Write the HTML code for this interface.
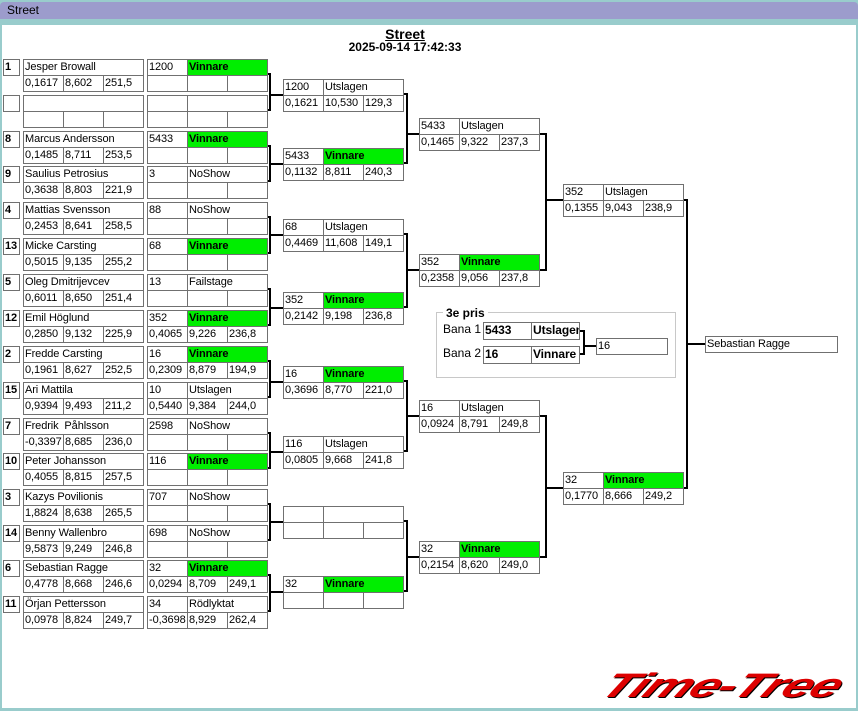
<!DOCTYPE html>
<html><head><meta charset="utf-8"><style>
*{margin:0;padding:0;box-sizing:border-box}
body{width:858px;height:711px;background:#99cccc;position:relative;overflow:hidden;font-family:"Liberation Sans",sans-serif}
#tb{position:absolute;left:0;top:2px;width:858px;height:17px;background:#9c9ccc;font-size:12px;line-height:17px;padding-left:7px;border-radius:4px 4px 0 0}
#cl{position:absolute;left:2px;top:25px;width:854px;height:683px;background:#fff}
.c{position:absolute;height:17px;border:1px solid #707070;font-size:11px;line-height:15px;padding-left:1px;white-space:nowrap;overflow:hidden;background:#fff;color:#000;letter-spacing:-0.1px}
.w{width:41px}.n{width:121px}.s{width:81px}
.g{background:#00ee00;font-weight:bold}
.sd{width:17px;font-weight:bold;padding-left:1px}
.b{font-weight:bold}
</style></head><body>
<div id="tb">Street</div>
<div id="cl"></div>
<div style="position:absolute;left:0;top:27px;width:810px;text-align:center;font-weight:bold;font-size:14px;text-decoration:underline;line-height:15px">Street</div>
<div style="position:absolute;left:0;top:41px;width:810px;text-align:center;font-weight:bold;font-size:12px;line-height:13px">2025-09-14 17:42:33</div>

<svg style="position:absolute;left:0;top:0" width="858" height="711"><g stroke="#000" stroke-width="2" fill="none">
<path d="M267 74H270V110H267M270 95H283"/>
<path d="M267 146H270V181H267M270 164H283"/>
<path d="M267 217H270V253H267M270 235H283"/>
<path d="M267 289H270V325H267M270 308H283"/>
<path d="M267 361H270V397H267M270 382H283"/>
<path d="M267 433H270V468H267M270 452H283"/>
<path d="M267 504H270V540H267M270 522H283"/>
<path d="M267 575H270V611H267M270 592H283"/>
<path d="M403 94H407V163H403M407 134H419"/>
<path d="M403 234H407V307H403M407 270H419"/>
<path d="M403 381H407V451H403M407 416H419"/>
<path d="M403 521H407V591H403M407 557H419"/>
<path d="M539 134H546V270H539M546 200H563"/>
<path d="M539 416H546V557H539M546 488H563"/>
<path d="M683 200H687V488H683M687 344H705"/>
<path d="M579 331H584V354H579M584 346H596"/>
</g>
<rect x="436.5" y="312.5" width="239" height="65" fill="none" stroke="#c8c8c8"/>
</svg>
<div style="position:absolute;left:443px;top:306px;background:#fff;padding:0 3px;font-weight:bold;font-size:12px">3e pris</div>
<div style="position:absolute;left:443px;top:322px;font-size:12px">Bana 1</div>
<div style="position:absolute;left:443px;top:346px;font-size:12px">Bana 2</div>
<div class="c b" style="left:483px;top:322px;width:49px;height:18px;font-size:12px">5433</div><div class="c b" style="left:531px;top:322px;width:49px;height:18px;font-size:12px">Utslagen</div>
<div class="c b" style="left:483px;top:346px;width:49px;height:18px;font-size:12px">16</div><div class="c b" style="left:531px;top:346px;width:49px;height:18px;font-size:12px">Vinnare</div>
<div class="c" style="left:596px;top:338px;width:72px">16</div>
<div class="c" style="left:705px;top:336px;width:133px">Sebastian Ragge</div>

<!-- Round 1 names -->
<div class="c sd" style="left:3px;top:59px">1</div><div class="c n" style="left:23px;top:59px">Jesper Browall</div><div class="c w" style="left:23px;top:75px">0,1617</div><div class="c w" style="left:63px;top:75px">8,602</div><div class="c w" style="left:103px;top:75px">251,5</div>
<div class="c sd" style="left:3px;top:95px"></div><div class="c n" style="left:23px;top:95px"></div><div class="c w" style="left:23px;top:111px"></div><div class="c w" style="left:63px;top:111px"></div><div class="c w" style="left:103px;top:111px"></div>
<div class="c sd" style="left:3px;top:131px">8</div><div class="c n" style="left:23px;top:131px">Marcus Andersson</div><div class="c w" style="left:23px;top:147px">0,1485</div><div class="c w" style="left:63px;top:147px">8,711</div><div class="c w" style="left:103px;top:147px">253,5</div>
<div class="c sd" style="left:3px;top:166px">9</div><div class="c n" style="left:23px;top:166px">Saulius Petrosius</div><div class="c w" style="left:23px;top:182px">0,3638</div><div class="c w" style="left:63px;top:182px">8,803</div><div class="c w" style="left:103px;top:182px">221,9</div>
<div class="c sd" style="left:3px;top:202px">4</div><div class="c n" style="left:23px;top:202px">Mattias Svensson</div><div class="c w" style="left:23px;top:218px">0,2453</div><div class="c w" style="left:63px;top:218px">8,641</div><div class="c w" style="left:103px;top:218px">258,5</div>
<div class="c sd" style="left:3px;top:238px">13</div><div class="c n" style="left:23px;top:238px">Micke Carsting</div><div class="c w" style="left:23px;top:254px">0,5015</div><div class="c w" style="left:63px;top:254px">9,135</div><div class="c w" style="left:103px;top:254px">255,2</div>
<div class="c sd" style="left:3px;top:274px">5</div><div class="c n" style="left:23px;top:274px">Oleg Dmitrijevcev</div><div class="c w" style="left:23px;top:290px">0,6011</div><div class="c w" style="left:63px;top:290px">8,650</div><div class="c w" style="left:103px;top:290px">251,4</div>
<div class="c sd" style="left:3px;top:310px">12</div><div class="c n" style="left:23px;top:310px">Emil Höglund</div><div class="c w" style="left:23px;top:326px">0,2850</div><div class="c w" style="left:63px;top:326px">9,132</div><div class="c w" style="left:103px;top:326px">225,9</div>
<div class="c sd" style="left:3px;top:346px">2</div><div class="c n" style="left:23px;top:346px">Fredde Carsting</div><div class="c w" style="left:23px;top:362px">0,1961</div><div class="c w" style="left:63px;top:362px">8,627</div><div class="c w" style="left:103px;top:362px">252,5</div>
<div class="c sd" style="left:3px;top:382px">15</div><div class="c n" style="left:23px;top:382px">Ari Mattila</div><div class="c w" style="left:23px;top:398px">0,9394</div><div class="c w" style="left:63px;top:398px">9,493</div><div class="c w" style="left:103px;top:398px">211,2</div>
<div class="c sd" style="left:3px;top:418px">7</div><div class="c n" style="left:23px;top:418px">Fredrik&nbsp; Påhlsson</div><div class="c w" style="left:23px;top:434px">-0,3397</div><div class="c w" style="left:63px;top:434px">8,685</div><div class="c w" style="left:103px;top:434px">236,0</div>
<div class="c sd" style="left:3px;top:453px">10</div><div class="c n" style="left:23px;top:453px">Peter Johansson</div><div class="c w" style="left:23px;top:469px">0,4055</div><div class="c w" style="left:63px;top:469px">8,815</div><div class="c w" style="left:103px;top:469px">257,5</div>
<div class="c sd" style="left:3px;top:489px">3</div><div class="c n" style="left:23px;top:489px">Kazys Povilionis</div><div class="c w" style="left:23px;top:505px">1,8824</div><div class="c w" style="left:63px;top:505px">8,638</div><div class="c w" style="left:103px;top:505px">265,5</div>
<div class="c sd" style="left:3px;top:525px">14</div><div class="c n" style="left:23px;top:525px">Benny Wallenbro</div><div class="c w" style="left:23px;top:541px">9,5873</div><div class="c w" style="left:63px;top:541px">9,249</div><div class="c w" style="left:103px;top:541px">246,8</div>
<div class="c sd" style="left:3px;top:560px">6</div><div class="c n" style="left:23px;top:560px">Sebastian Ragge</div><div class="c w" style="left:23px;top:576px">0,4778</div><div class="c w" style="left:63px;top:576px">8,668</div><div class="c w" style="left:103px;top:576px">246,6</div>
<div class="c sd" style="left:3px;top:596px">11</div><div class="c n" style="left:23px;top:596px">Örjan Pettersson</div><div class="c w" style="left:23px;top:612px">0,0978</div><div class="c w" style="left:63px;top:612px">8,824</div><div class="c w" style="left:103px;top:612px">249,7</div>

<!-- Round 1 results -->
<div class="c w" style="left:147px;top:59px">1200</div><div class="c s g" style="left:187px;top:59px">Vinnare</div><div class="c w" style="left:147px;top:75px"></div><div class="c w" style="left:187px;top:75px"></div><div class="c w" style="left:227px;top:75px"></div>
<div class="c w" style="left:147px;top:95px"></div><div class="c s" style="left:187px;top:95px"></div><div class="c w" style="left:147px;top:111px"></div><div class="c w" style="left:187px;top:111px"></div><div class="c w" style="left:227px;top:111px"></div>
<div class="c w" style="left:147px;top:131px">5433</div><div class="c s g" style="left:187px;top:131px">Vinnare</div><div class="c w" style="left:147px;top:147px"></div><div class="c w" style="left:187px;top:147px"></div><div class="c w" style="left:227px;top:147px"></div>
<div class="c w" style="left:147px;top:166px">3</div><div class="c s" style="left:187px;top:166px">NoShow</div><div class="c w" style="left:147px;top:182px"></div><div class="c w" style="left:187px;top:182px"></div><div class="c w" style="left:227px;top:182px"></div>
<div class="c w" style="left:147px;top:202px">88</div><div class="c s" style="left:187px;top:202px">NoShow</div><div class="c w" style="left:147px;top:218px"></div><div class="c w" style="left:187px;top:218px"></div><div class="c w" style="left:227px;top:218px"></div>
<div class="c w" style="left:147px;top:238px">68</div><div class="c s g" style="left:187px;top:238px">Vinnare</div><div class="c w" style="left:147px;top:254px"></div><div class="c w" style="left:187px;top:254px"></div><div class="c w" style="left:227px;top:254px"></div>
<div class="c w" style="left:147px;top:274px">13</div><div class="c s" style="left:187px;top:274px">Failstage</div><div class="c w" style="left:147px;top:290px"></div><div class="c w" style="left:187px;top:290px"></div><div class="c w" style="left:227px;top:290px"></div>
<div class="c w" style="left:147px;top:310px">352</div><div class="c s g" style="left:187px;top:310px">Vinnare</div><div class="c w" style="left:147px;top:326px">0,4065</div><div class="c w" style="left:187px;top:326px">9,226</div><div class="c w" style="left:227px;top:326px">236,8</div>
<div class="c w" style="left:147px;top:346px">16</div><div class="c s g" style="left:187px;top:346px">Vinnare</div><div class="c w" style="left:147px;top:362px">0,2309</div><div class="c w" style="left:187px;top:362px">8,879</div><div class="c w" style="left:227px;top:362px">194,9</div>
<div class="c w" style="left:147px;top:382px">10</div><div class="c s" style="left:187px;top:382px">Utslagen</div><div class="c w" style="left:147px;top:398px">0,5440</div><div class="c w" style="left:187px;top:398px">9,384</div><div class="c w" style="left:227px;top:398px">244,0</div>
<div class="c w" style="left:147px;top:418px">2598</div><div class="c s" style="left:187px;top:418px">NoShow</div><div class="c w" style="left:147px;top:434px"></div><div class="c w" style="left:187px;top:434px"></div><div class="c w" style="left:227px;top:434px"></div>
<div class="c w" style="left:147px;top:453px">116</div><div class="c s g" style="left:187px;top:453px">Vinnare</div><div class="c w" style="left:147px;top:469px"></div><div class="c w" style="left:187px;top:469px"></div><div class="c w" style="left:227px;top:469px"></div>
<div class="c w" style="left:147px;top:489px">707</div><div class="c s" style="left:187px;top:489px">NoShow</div><div class="c w" style="left:147px;top:505px"></div><div class="c w" style="left:187px;top:505px"></div><div class="c w" style="left:227px;top:505px"></div>
<div class="c w" style="left:147px;top:525px">698</div><div class="c s" style="left:187px;top:525px">NoShow</div><div class="c w" style="left:147px;top:541px"></div><div class="c w" style="left:187px;top:541px"></div><div class="c w" style="left:227px;top:541px"></div>
<div class="c w" style="left:147px;top:560px">32</div><div class="c s g" style="left:187px;top:560px">Vinnare</div><div class="c w" style="left:147px;top:576px">0,0294</div><div class="c w" style="left:187px;top:576px">8,709</div><div class="c w" style="left:227px;top:576px">249,1</div>
<div class="c w" style="left:147px;top:596px">34</div><div class="c s" style="left:187px;top:596px">Rödlyktat</div><div class="c w" style="left:147px;top:612px">-0,3698</div><div class="c w" style="left:187px;top:612px">8,929</div><div class="c w" style="left:227px;top:612px">262,4</div>

<!-- Round 2 -->
<div class="c w" style="left:283px;top:79px">1200</div><div class="c s" style="left:323px;top:79px">Utslagen</div><div class="c w" style="left:283px;top:95px">0,1621</div><div class="c w" style="left:323px;top:95px">10,530</div><div class="c w" style="left:363px;top:95px">129,3</div>
<div class="c w" style="left:283px;top:148px">5433</div><div class="c s g" style="left:323px;top:148px">Vinnare</div><div class="c w" style="left:283px;top:164px">0,1132</div><div class="c w" style="left:323px;top:164px">8,811</div><div class="c w" style="left:363px;top:164px">240,3</div>
<div class="c w" style="left:283px;top:219px">68</div><div class="c s" style="left:323px;top:219px">Utslagen</div><div class="c w" style="left:283px;top:235px">0,4469</div><div class="c w" style="left:323px;top:235px">11,608</div><div class="c w" style="left:363px;top:235px">149,1</div>
<div class="c w" style="left:283px;top:292px">352</div><div class="c s g" style="left:323px;top:292px">Vinnare</div><div class="c w" style="left:283px;top:308px">0,2142</div><div class="c w" style="left:323px;top:308px">9,198</div><div class="c w" style="left:363px;top:308px">236,8</div>
<div class="c w" style="left:283px;top:366px">16</div><div class="c s g" style="left:323px;top:366px">Vinnare</div><div class="c w" style="left:283px;top:382px">0,3696</div><div class="c w" style="left:323px;top:382px">8,770</div><div class="c w" style="left:363px;top:382px">221,0</div>
<div class="c w" style="left:283px;top:436px">116</div><div class="c s" style="left:323px;top:436px">Utslagen</div><div class="c w" style="left:283px;top:452px">0,0805</div><div class="c w" style="left:323px;top:452px">9,668</div><div class="c w" style="left:363px;top:452px">241,8</div>
<div class="c w" style="left:283px;top:506px"></div><div class="c s" style="left:323px;top:506px"></div><div class="c w" style="left:283px;top:522px"></div><div class="c w" style="left:323px;top:522px"></div><div class="c w" style="left:363px;top:522px"></div>
<div class="c w" style="left:283px;top:576px">32</div><div class="c s g" style="left:323px;top:576px">Vinnare</div><div class="c w" style="left:283px;top:592px"></div><div class="c w" style="left:323px;top:592px"></div><div class="c w" style="left:363px;top:592px"></div>

<!-- Round 3 -->
<div class="c w" style="left:419px;top:118px">5433</div><div class="c s" style="left:459px;top:118px">Utslagen</div><div class="c w" style="left:419px;top:134px">0,1465</div><div class="c w" style="left:459px;top:134px">9,322</div><div class="c w" style="left:499px;top:134px">237,3</div>
<div class="c w" style="left:419px;top:254px">352</div><div class="c s g" style="left:459px;top:254px">Vinnare</div><div class="c w" style="left:419px;top:270px">0,2358</div><div class="c w" style="left:459px;top:270px">9,056</div><div class="c w" style="left:499px;top:270px">237,8</div>
<div class="c w" style="left:419px;top:400px">16</div><div class="c s" style="left:459px;top:400px">Utslagen</div><div class="c w" style="left:419px;top:416px">0,0924</div><div class="c w" style="left:459px;top:416px">8,791</div><div class="c w" style="left:499px;top:416px">249,8</div>
<div class="c w" style="left:419px;top:541px">32</div><div class="c s g" style="left:459px;top:541px">Vinnare</div><div class="c w" style="left:419px;top:557px">0,2154</div><div class="c w" style="left:459px;top:557px">8,620</div><div class="c w" style="left:499px;top:557px">249,0</div>

<!-- Round 4 -->
<div class="c w" style="left:563px;top:184px">352</div><div class="c s" style="left:603px;top:184px">Utslagen</div><div class="c w" style="left:563px;top:200px">0,1355</div><div class="c w" style="left:603px;top:200px">9,043</div><div class="c w" style="left:643px;top:200px">238,9</div>
<div class="c w" style="left:563px;top:472px">32</div><div class="c s g" style="left:603px;top:472px">Vinnare</div><div class="c w" style="left:563px;top:488px">0,1770</div><div class="c w" style="left:603px;top:488px">8,666</div><div class="c w" style="left:643px;top:488px">249,2</div>

<div style="position:absolute;left:616px;top:667px;font-size:34px;line-height:38px;font-weight:bold;font-style:italic;color:#dd0000;letter-spacing:-1px;transform-origin:0 0;transform:scaleX(1.55) skewX(-22deg);text-shadow:1px 1px 0 #000;white-space:nowrap">Time-Tree</div>
</body></html>
